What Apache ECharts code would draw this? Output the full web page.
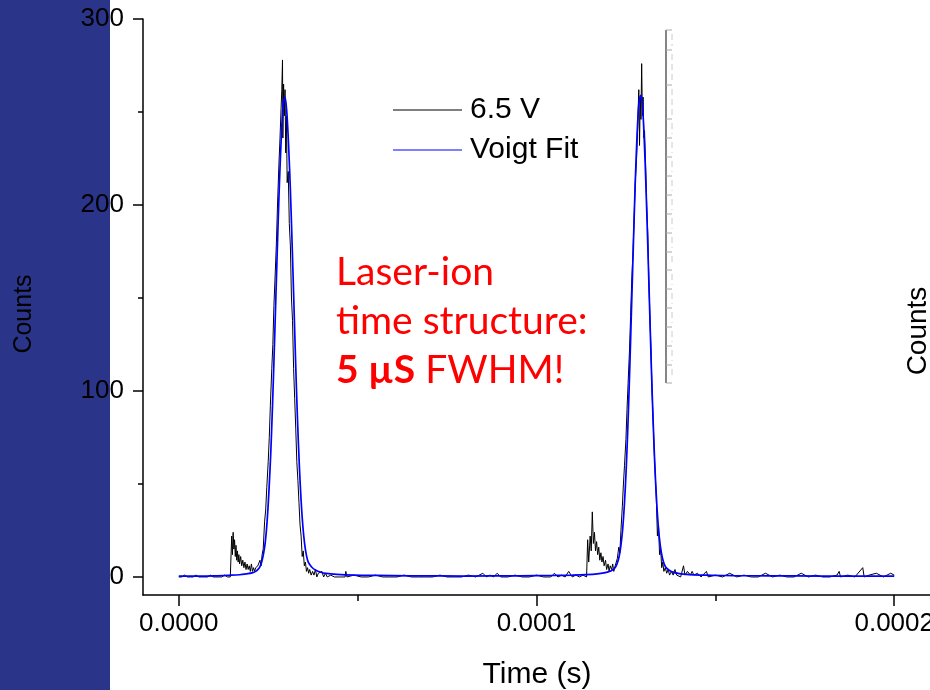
<!DOCTYPE html>
<html>
<head>
<meta charset="utf-8">
<script src="https://cdn.jsdelivr.net/npm/echarts@6/dist/echarts.min.js"></script>
<style>html,body{margin:0;padding:0;background:#fff}#c{width:930px;height:690px}</style>
</head>
<body>
<div id="c"></div>
<script>
// ---- data (time in microseconds, counts) ----
const seriesNames = ['6.5 V', 'Voigt Fit'];
const xTickLabels = [0, 0.0001, 0.0002];
const xMinorTicks = [0.00005, 0.00015];
const yTickLabels = [0, 100, 200, 300];
const yMinorTicks = [50, 150, 250];

const timeUs = [
  0,0.8,1.6,2.4,3.2,4.0,4.8,5.6,6.4,7.2,8.0,8.8,9.6,10.4,11.2,12.0,12.8,13.6,14.4,14.6,
  14.8,15.0,15.2,15.4,15.6,15.8,16.0,16.2,16.4,16.6,16.8,17.0,17.3,17.6,17.9,18.2,18.5,18.8,19.1,19.4,19.7,20.0,20.3,20.6,20.9,21.2,21.5,21.8,22.1,22.4,22.7,23.0,
  23.3,23.6,24.0,24.3,24.6,25.0,25.3,25.6,26.0,26.3,26.6,27.0,27.3,27.6,28.0,28.3,28.6,28.8,29.0,29.1,29.3,29.5,29.7,29.9,30.1,30.3,30.6,30.9,31.2,31.5,31.8,32.1,32.4,32.7,33.0,33.3,33.6,33.9,34.2,34.5,34.8,35.1,35.4,35.7,36.0,36.3,36.6,37.0,37.4,37.8,38.2,38.6,39.0,39.5,40.0,40.5,41.0,41.5,42.5,43.5,45.0,46.5,46.7,47.0,49.0,51.0,
  53,55,57,59,61,63,65,67,69,71,73,75,77,79,81,83,85,86,87,88,89,90,92,94,96,98,100,102,104,105,106,107,108,109,110,111,112,113,114.0,
  114.3,114.6,115.0,115.3,115.6,115.9,116.2,116.5,116.8,117.1,117.4,117.7,118.0,118.3,118.6,118.9,119.3,119.6,120.0,120.3,120.6,121.0,121.3,121.6,122.0,122.3,
  122.6,123.0,123.3,123.6,124.0,124.3,124.6,125.0,125.3,125.6,126.0,126.3,126.6,127.0,127.3,127.6,128.0,128.3,128.6,128.8,129.0,129.2,129.4,129.6,129.8,130.0,130.2,130.5,130.8,131.1,131.4,131.7,132.0,132.3,132.6,132.9,133.2,133.5,133.8,134.1,134.4,134.7,135.0,135.3,135.6,136.0,136.4,136.8,137.2,137.7,138.2,138.7,139.2,139.7,140.3,141.1,141.5,142.2,143.0,143.5,144.0,145.0,146.0,147.5,148.0,
  150,152,154,156,158,160,162,164,166,168,170,172,174,176,178,180,182,184,184.6,185,187,189,191.2,191.6,193,195,197,199,200
];
const counts = [
  0,0,1,0,0,0,1,0,0,0,0,1,0,0,0,0,1,0,0,0,
  22,12,24,15,20,11,17,9,14,8,12,7,11,6,9,5,8,4,7,4,6,3,7,3,5,3,5,4,6,5,9,6,
  12,15,30,36,48,62,75,92,112,125,146,165,180,200,222,236,252,262,278,236,265,248,262,228,248,212,218,190,178,150,138,112,96,80,62,52,40,28,22,11,14,6,8,3,5,2,4,1,3,1,4,0,2,1,3,0,2,0,1,0,0,0,3,0,1,0,
  0,1,0,0,0,1,0,0,0,0,1,0,0,0,1,0,2,0,1,0,2,0,0,1,0,0,1,0,0,2,0,1,0,3,0,1,0,1,0,
  20,8,22,14,35,18,24,14,19,12,16,9,13,8,11,6,9,4,7,3,6,4,7,3,6,5,
  10,16,13,25,38,50,60,74,90,104,122,140,158,176,194,212,226,244,262,232,258,246,276,248,258,236,240,222,200,185,160,140,122,100,84,68,55,42,22,28,12,15,5,8,3,5,2,4,1,3,1,4,1,2,0,6,1,3,1,3,1,2,0,3,0,
  1,0,2,0,1,0,0,2,0,1,0,0,2,0,1,0,0,1,3,0,1,0,5,0,1,2,0,2,1
];

const fitTimeUs = [
  0,5,10,14,17,19,20.5,21.5,22.2,22.7,23.2,23.7,24.2,24.7,25.2,25.7,26.2,26.7,27.2,27.7,28.2,28.7,29.2,29.7,30.2,30.7,31.2,31.7,32.2,32.7,33.2,33.7,34.2,34.7,35.2,35.7,36.2,37.2,38.2,39.7,41.2,44.2,49,55,65,80,95,105,110,114,117,118.9,120.4,121.4,122.1,122.6,123.1,123.6,124.1,124.6,125.1,125.6,126.1,126.6,127.1,127.6,128.1,128.6,129.1,129.6,130.1,130.6,131.1,131.6,132.1,132.6,133.1,133.6,134.1,134.6,135.1,135.6,136.1,137.1,138.1,139.6,141.1,144.1,149,155,165,180,200
];
const fitCounts = [
  0.5,0.5,0.6,0.9,1.2,1.7,2.2,3.0,4.2,5.6,8.2,12.5,19,30,46,66,92,122,154,186,215,238,255,258,250,232,208,178,146,113,84,60,41,27,17.5,11.5,8,5.2,3.7,2.5,1.9,1.4,1.0,0.8,0.6,0.5,0.6,0.8,1.0,1.3,1.7,2.2,2.9,4.0,5.4,7.5,11,17,26,40,59,84,114,147,180,212,237,254,259,254,236,210,179,146,113,84,59,40,26,17,11,7.5,5.4,3.6,2.6,1.9,1.5,1.1,0.9,0.7,0.6,0.5,0.5
];

const dataPts = timeUs.map((t, i) => [t * 1e-6, counts[i]]);
const fitPts = fitTimeUs.map((t, i) => [t * 1e-6, fitCounts[i]]);

const FONT = 'Liberation Sans, Arial, sans-serif';
const chart = echarts.init(document.getElementById('c'), null, {renderer: 'canvas'});

// inset fragment (partial axis of a neighbouring plot)
const insetTicks = [30, 50, 85, 119, 138, 157, 176, 195, 214, 233, 252, 270, 289, 308, 327, 346, 365, 383];
const insetEls = [{type: 'line', shape: {x1: 666, y1: 30, x2: 666, y2: 383}, style: {stroke: '#858585', lineWidth: 2}}];
insetTicks.forEach((y, i) => {
  insetEls.push({type: 'line', shape: {x1: 666, y1: y, x2: 672, y2: y}, style: {stroke: '#aaaaaa', lineWidth: 1}});
  if (i < insetTicks.length - 1) {
    insetEls.push({type: 'line', shape: {x1: 672, y1: y + 4, x2: 672, y2: insetTicks[i + 1] - 4}, style: {stroke: '#cccccc', lineWidth: 1, lineDash: [6, 4]}});
  }
});

const axisBase = {
  type: 'value',
  axisLine: {show: true, onZero: false, lineStyle: {color: '#000', width: 1.5}},
  splitLine: {show: false}
};

chart.setOption({
  animation: false,
  backgroundColor: '#fff',
  grid: {left: 143, top: 19, width: 787, height: 576, containLabel: false, outerBoundsMode: 'none'},
  xAxis: [
    Object.assign({}, axisBase, {
      min: -0.00001, max: 0.00021,
      axisTick: {show: true, customValues: xTickLabels, length: 11, lineStyle: {color: '#000', width: 1.5}},
      axisLabel: {customValues: xTickLabels, formatter: v => v.toFixed(4), fontSize: 26, fontFamily: FONT, color: '#000', margin: 16, hideOverlap: false}
    }),
    Object.assign({}, axisBase, {
      min: -0.00001, max: 0.00021, position: 'bottom',
      axisLine: {show: false, onZero: false},
      axisTick: {show: true, customValues: xMinorTicks, length: 6, lineStyle: {color: '#000', width: 1.5}},
      axisLabel: {show: false}
    })
  ],
  yAxis: [
    Object.assign({}, axisBase, {
      min: -9.7, max: 300,
      axisTick: {show: true, customValues: yTickLabels, length: 10, lineStyle: {color: '#000', width: 1.5}},
      axisLabel: {customValues: yTickLabels, fontSize: 26, fontFamily: FONT, color: '#000', margin: 19}
    }),
    Object.assign({}, axisBase, {
      min: -9.7, max: 300, position: 'left',
      axisLine: {show: false, onZero: false},
      axisTick: {show: true, customValues: yMinorTicks, length: 5, lineStyle: {color: '#000', width: 1.5}},
      axisLabel: {show: false}
    })
  ],
  legend: {
    left: 393, top: 95, orient: 'vertical', itemGap: 10, padding: 0,
    itemWidth: 69, itemHeight: 1, icon: 'rect',
    textStyle: {fontSize: 30, lineHeight: 30, fontFamily: FONT, color: '#000', padding: [0, 0, 0, 3]},
    data: seriesNames
  },
  series: [
    {name: seriesNames[0], type: 'line', data: dataPts, showSymbol: false, sampling: false,
     lineStyle: {color: '#000', width: 1}, itemStyle: {color: '#000'}, z: 2},
    {name: seriesNames[1], type: 'line', data: fitPts, showSymbol: false, smooth: 0.3,
     lineStyle: {color: '#0000ff', width: 1.7}, itemStyle: {color: '#0000ff'}, z: 3}
  ],
  graphic: {elements: [
    {type: 'rect', z: -100, shape: {x: 0, y: 0, width: 110, height: 690}, style: {fill: '#2a3589'}},
    {type: 'group', children: insetEls},
    {type: 'text', x: 24, y: 314, rotation: Math.PI / 2,
     style: {text: 'Counts', fontSize: 25, fontFamily: FONT, fill: '#000', align: 'center', verticalAlign: 'middle'}},
    {type: 'text', x: 918, y: 331, rotation: Math.PI / 2,
     style: {text: 'Counts', fontSize: 28, fontFamily: FONT, fill: '#000', align: 'center', verticalAlign: 'middle'}},
    {type: 'text', x: 537, y: 675,
     style: {text: 'Time (s)', fontSize: 30, fontFamily: FONT, fill: '#000', align: 'center', verticalAlign: 'middle'}},
    {type: 'text', x: 336, y: 248,
     style: {text: 'Laser-ion\ntime structure:\n{b|5 µS} FWHM!', fontSize: 39, lineHeight: 49,
       fontFamily: 'Lato, Open Sans, sans-serif', fill: '#ff0000', align: 'left', verticalAlign: 'top',
       rich: {b: {fontSize: 39, fontWeight: 'bold', fontFamily: 'Lato, Open Sans, sans-serif', fill: '#ff0000', lineHeight: 49}}}}
  ]}
});
</script>
</body>
</html>
